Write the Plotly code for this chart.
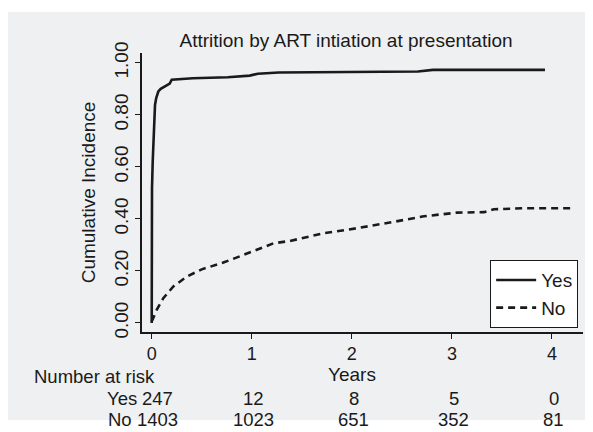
import plotly.graph_objects as go

# Cumulative incidence curves (years, value)
yes_t = [0, 0.0, 0.003, 0.01, 0.016, 0.025, 0.033, 0.045, 0.066, 0.09, 0.116, 0.166, 0.18, 0.2,
         0.41, 0.76, 0.98, 1.06, 1.27, 2.66, 2.81, 3.93]
yes_v = [0, 0.48, 0.52, 0.62, 0.69, 0.78, 0.838, 0.865, 0.89, 0.90, 0.906, 0.915, 0.92, 0.935,
         0.941, 0.945, 0.951, 0.958, 0.963, 0.967, 0.973, 0.973]

no_t = [0, 0.05, 0.116, 0.216, 0.35, 0.5, 0.716, 0.883, 1.05, 1.216, 1.38, 1.72, 2.05, 2.38,
        2.72, 3.05, 3.32, 3.42, 3.72, 4.2]
no_v = [0.005, 0.05, 0.095, 0.14, 0.178, 0.206, 0.232, 0.255, 0.281, 0.306, 0.315, 0.345, 0.364, 0.386,
        0.41, 0.424, 0.426, 0.437, 0.441, 0.441]

risk_times = [0, 1, 2, 3, 4]
risk_yes = [247, 12, 8, 5, 0]
risk_no = [1403, 1023, 651, 352, 81]

y_ticks = [0, 0.2, 0.4, 0.6, 0.8, 1.0]
y_ticklabels = ["0.00", "0.20", "0.40", "0.60", "0.80", "1.00"]

FONT = "Liberation Sans, Arial, sans-serif"
FS = 19
RS = 18.5
W, H = 585, 424

fig = go.Figure()
fig.add_trace(go.Scatter(x=yes_t, y=yes_v, mode="lines", name="Yes",
                         line=dict(color="#1a1a1a", width=2.6)))
fig.add_trace(go.Scatter(x=no_t, y=no_v, mode="lines", name="No",
                         line=dict(color="#1a1a1a", width=2.6, dash="7px,5px")))

# grey background panel
fig.add_shape(type="rect", xref="paper", yref="paper", x0=-0.304, x1=1.011, y0=-0.315, y1=1.147,
              fillcolor="#eff0f2", line=dict(width=0), layer="below")

HDR, Y_ROW, N_ROW = -0.161, -0.237, -0.312
ann = []
ann.append(dict(text="Number at risk", x=-0.25, y=HDR, xref="paper", yref="paper",
                xanchor="left", yanchor="middle", showarrow=False, font=dict(size=RS)))
for i, (t, a, b) in enumerate(zip(risk_times, risk_yes, risk_no)):
    shift = 6 if i == 0 else 2
    ann.append(dict(text=str(a), x=t, y=Y_ROW, xref="x", yref="paper", xanchor="center",
                    yanchor="middle", xshift=shift, showarrow=False, font=dict(size=RS)))
    ann.append(dict(text=str(b), x=t, y=N_ROW, xref="x", yref="paper", xanchor="center",
                    yanchor="middle", xshift=shift, showarrow=False, font=dict(size=RS)))
ann.append(dict(text="Yes", x=0, y=Y_ROW, xref="x", yref="paper", xanchor="right",
                yanchor="middle", xshift=-13, showarrow=False, font=dict(size=RS)))
ann.append(dict(text="No", x=0, y=N_ROW, xref="x", yref="paper", xanchor="right",
                yanchor="middle", xshift=-18, showarrow=False, font=dict(size=RS)))
ann.append(dict(text="Years", x=2, y=-0.152, xref="x", yref="paper", xanchor="center",
                yanchor="middle", showarrow=False, font=dict(size=FS)))

fig.update_layout(
    width=W, height=H,
    margin=dict(l=134, r=10, t=45, b=100),
    paper_bgcolor="white", plot_bgcolor="white",
    font=dict(family=FONT, size=FS, color="#1a1a1a"),
    title=dict(text="Attrition by ART intiation at presentation", x=338 / W, xanchor="center",
               y=1 - 32 / H, yanchor="middle", yref="container", font=dict(size=FS)),
    showlegend=True,
    legend=dict(x=0.989, xanchor="right", y=0.014, yanchor="bottom", bgcolor="white",
                bordercolor="#1a1a1a", borderwidth=1, font=dict(size=FS),
                itemwidth=40, tracegroupgap=0),
    annotations=ann,
)
fig.update_xaxes(range=[-0.097, 4.31], tickvals=risk_times, ticks="outside", ticklen=5,
                 tickcolor="#1a1a1a", showline=True, linecolor="#1a1a1a", linewidth=1.5,
                 showgrid=False, zeroline=False, tickfont=dict(size=18))
fig.update_yaxes(range=[-0.035, 1.038], tickvals=y_ticks, ticktext=y_ticklabels, tickangle=-90,
                 ticks="outside", ticklen=5, tickcolor="#1a1a1a", showline=True,
                 linecolor="#1a1a1a", linewidth=1.5, showgrid=False, zeroline=False,
                 tickfont=dict(size=FS),
                 title=dict(text="Cumulative Incidence", font=dict(size=FS), standoff=10))

fig.write_html("out.html")
